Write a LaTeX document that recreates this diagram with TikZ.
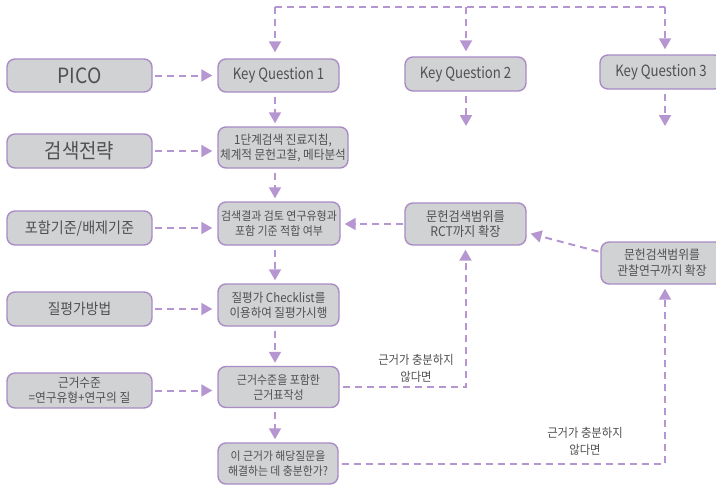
\documentclass[tikz,border=0pt]{standalone}
\usepackage{fontspec}
\setmainfont{Noto Sans CJK KR}[FakeStretch=0.92]
\newfontfamily\narrowfont{Noto Sans CJK KR}[FakeStretch=0.85]
\usetikzlibrary{arrows.meta}
\definecolor{boxfill}{HTML}{D1D2D4}
\definecolor{boxline}{HTML}{A98BC6}
\definecolor{flow}{HTML}{B596D0}
\definecolor{ink}{HTML}{505052}
\newcommand{\fsz}[2]{\fontsize{#1}{#2}\selectfont}

\begin{document}
\begin{tikzpicture}[x=1pt,y=-1pt,
  box/.style={draw=boxline, line width=1.4pt, fill=boxfill, rounded corners=8pt,
              inner sep=0pt, align=center, text=ink},
  flowline/.style={draw=flow, line width=2pt, dash pattern=on 7pt off 5pt,
              -{Triangle[length=11pt,width=12pt]}},
  flowplain/.style={draw=flow, line width=2pt, dash pattern=on 7pt off 5pt},
  note/.style={text=ink, align=center, inner sep=0pt}]

\useasboundingbox (0,0) rectangle (716,485);

% left column: inputs
\node[box, minimum width=145pt, minimum height=33pt, font=\fsz{21}{24}]    (pico)   at (79.5,75.5) {PICO};
\node[box, minimum width=145pt, minimum height=34pt, font=\fsz{20.5}{23}]  (search) at (79.5,151)  {검색전략};
\node[box, minimum width=145pt, minimum height=34pt, font=\fsz{15.3}{18}]  (incl)   at (79.5,228)  {포함기준/배제기준};
\node[box, minimum width=145pt, minimum height=34pt, font=\fsz{15}{18}]    (qual)   at (79.5,309)  {질평가방법};
\node[box, minimum width=145pt, minimum height=35pt, font=\fsz{12.7}{15}]  (level)  at (79.5,390.5) {근거수준\\=연구유형+연구의 질};

% middle column: main process
\node[box, minimum width=121pt, minimum height=33pt, font=\narrowfont\fsz{15.5}{19}] (kq1) at (278.5,75.5) {Key Question 1};
\node[box, minimum width=130pt, minimum height=41pt, font=\fsz{12.6}{15}] (s1)  at (283,147.5)  {1단계검색 진료지침,\\체계적 문헌고찰, 메타분석};
\node[box, minimum width=122pt, minimum height=43pt, font=\fsz{11.9}{15}] (s2)  at (279,223.5)  {검색결과 검토 연구유형과\\포함 기준 적합 여부};
\node[box, minimum width=121pt, minimum height=42pt, font=\fsz{12.5}{15}] (s3)  at (278.5,305)  {질평가 Checklist를\\이용하여 질평가시행};
\node[box, minimum width=121pt, minimum height=41pt, font=\fsz{11.9}{15}] (s4)  at (278.5,387)  {근거수준을 포함한\\근거표작성};
\node[box, minimum width=120pt, minimum height=41pt, font=\fsz{11.8}{15}] (s5)  at (278,463.5)  {이 근거가 해당질문을\\해결하는 데 충분한가?};

% right columns
\node[box, minimum width=121pt, minimum height=34pt, font=\narrowfont\fsz{15.5}{19}] (kq2) at (465.5,74) {Key Question 2};
\node[box, minimum width=122pt, minimum height=34pt, font=\narrowfont\fsz{15.5}{19}] (kq3) at (661,72)   {Key Question 3};
\node[box, minimum width=121pt, minimum height=42pt, font=\fsz{13.3}{15}] (rct) at (465.5,224) {문헌검색범위를\\RCT까지 확장};
\node[box, minimum width=122pt, minimum height=42pt, font=\fsz{12.8}{16}] (obs) at (662,263)   {문헌검색범위를\\관찰연구까지 확장};

% helper points
\coordinate (colx) at (275,0);
\coordinate (top1) at (275,7);
\coordinate (top2) at (466,7);
\coordinate (top3) at (665,7);
\coordinate (obsx) at (665,0);
\coordinate (kq2end) at (466,126);
\coordinate (kq3end) at (665,126);

% top distribution line
\draw[flowplain] (top1) -- (top3);
\draw[flowline, shorten >=6pt] (top1) -- (kq1.north -| top1);
\draw[flowline, shorten >=5pt] (top2) -- (kq2.north -| top2);
\draw[flowline, shorten >=5pt] (top3) -- (kq3.north -| top3);

% continuation below key questions 2 and 3
\draw[flowline, shorten <=4pt] (kq2.south -| top2) -- (kq2end);
\draw[flowline, shorten <=4pt] (kq3.south -| top3) -- (kq3end);

% main vertical flow
\draw[flowline, shorten <=4pt, shorten >=3pt] (kq1.south -| colx) -- (s1.north -| colx);
\draw[flowline, shorten <=4pt, shorten >=3pt] (s1.south -| colx) -- (s2.north -| colx);
\draw[flowline, shorten <=4pt, shorten >=3pt] (s2.south -| colx) -- (s3.north -| colx);
\draw[flowline, shorten <=4pt, shorten >=3pt] (s3.south -| colx) -- (s4.north -| colx);
\draw[flowline, shorten <=4pt, shorten >=3pt] (s4.south -| colx) -- (s5.north -| colx);

% inputs into the process
\draw[flowline, shorten <=2pt, shorten >=5pt] (pico.east)   -- (pico.east -| kq1.west);
\draw[flowline, shorten <=2pt, shorten >=5pt] (search.east) -- (search.east -| s1.west);
\draw[flowline, shorten <=2pt, shorten >=5pt] (incl.east)   -- (incl.east -| s2.west);
\draw[flowline, shorten <=2pt, shorten >=5pt] (qual.east)   -- (qual.east -| s3.west);
\draw[flowline, shorten <=2pt, shorten >=5pt] (level.east)  -- (level.east -| s4.west);

% search range extensions
\draw[flowline, shorten <=1pt, shorten >=4pt] (rct.west) -- (rct.west -| s2.east);
\draw[flowline, shorten <=2pt, shorten >=4pt] (obs.170) -- (rct.-8);

% feedback loops when evidence is insufficient
\draw[flowline, shorten <=3pt, shorten >=4pt] (s4.east) -- (s4.east -| rct.south) -- (rct.south);
\draw[flowline, shorten <=3pt, shorten >=4pt] (s5.east) -- (s5.east -| obsx) -- (obs.south -| obsx);

\node[note, font=\fsz{12.3}{17}] (lab1) at (416,368) {근거가 충분하지\\않다면};
\node[note, font=\fsz{12.3}{17}] (lab2) at (585,441) {근거가 충분하지\\않다면};

\end{tikzpicture}
\end{document}
